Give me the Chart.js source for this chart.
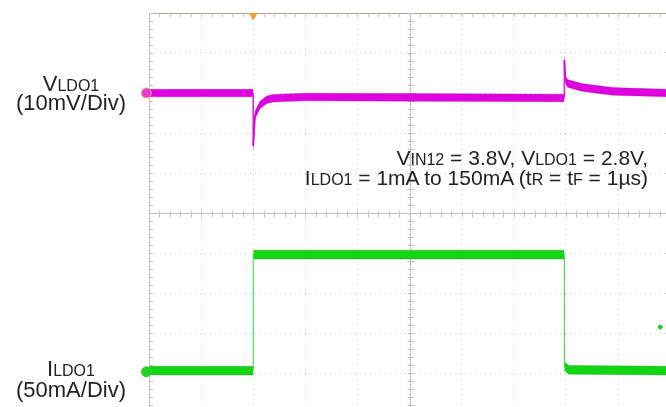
<!DOCTYPE html>
<html lang="en">
<head>
<meta charset="UTF-8">
<title>VLDO1 load transient</title>
<script src="https://cdn.jsdelivr.net/npm/chart.js"></script>
<style>
  html, body { margin: 0; padding: 0; background: #fff; overflow: hidden; }
  #wrap { position: relative; width: 666px; height: 407px; }
  #scope { position: absolute; left: 0; top: 0; }
  .lbl { position: absolute; font-family: "Liberation Sans", Arial, sans-serif; color: #222; white-space: nowrap; line-height: 20px; }
  .lbl small { font-size: 16px; }
  .side { left: 0; width: 142px; text-align: center; font-size: 22px; }
  .note { right: 18px; text-align: right; font-size: 21px; }
</style>
</head>
<body>
<div id="wrap">
  <canvas id="scope" width="666" height="407"></canvas>
  <div class="lbl side" style="top:74px">V<small>LDO1</small></div>
  <div class="lbl side" style="top:93px">(10mV/Div)</div>
  <div class="lbl side" style="top:359px">I<small>LDO1</small></div>
  <div class="lbl side" style="top:380px">(50mA/Div)</div>
  <div class="lbl note" style="top:148px">V<small>IN12</small> = 3.8V, V<small>LDO1</small> = 2.8V,</div>
  <div class="lbl note" style="top:168px">I<small>LDO1</small> = 1mA to 150mA (t<small>R</small> = t<small>F</small> = 1&micro;s)</div>
</div>

<script>
    // everything is in scope divisions (x: 10 div across, y: +-5 div about centre)
    // CH1, output voltage trace
    const vTime = [0, 2.0, 2.0, 2.035, 2.07, 2.13, 2.26, 2.38, 3.0, 5.0, 7.97, 7.97, 7.99, 8.03, 8.3, 8.9, 9.92];
    const vLdo1 = [3.0, 3.0, 1.68, 2.45, 2.55, 2.7, 2.83, 2.87, 2.9, 2.89, 2.875, 3.82, 3.35, 3.24, 3.14, 3.04, 3.0];

    // CH2, load current trace
    const iTime = [0, 2.0, 2.0, 7.97, 7.97, 8.05, 9.92];
    const iLdo1 = [-3.94, -3.94, -1.04, -1.04, -3.82, -3.92, -3.94];

    // channel ground markers (left edge), trigger position, stray sample
    const groundLevels = [3.0, -3.97];
    const triggerTime = [2.0];
    const strayDot = [[9.81, -2.85]];

    const xMax = 9.92, yMin = -4.85, yMax = 5;

    // noise band drawn as a filled envelope around each trace
    function band(xs, ys, half) {
        return xs.map((x, i) => ({ x: x, y: ys[i] + half }));
    }
    function pts(xs, ys) {
        return xs.map((x, i) => ({ x: x, y: ys[i] }));
    }
    const isJump = ctx => ctx.p0.parsed.x === ctx.p1.parsed.x;
    // band edges vanish on vertical jumps, centre line is lighter there
    const edgeColor = c => ({ borderColor: ctx => isJump(ctx) ? 'rgba(0,0,0,0)' : c });
    const centreColor = (flat, jump) => ({ borderColor: ctx => isJump(ctx) ? jump : flat });

    function keepWholeDivs(scale) {
        scale.ticks = scale.ticks.filter(t => Math.abs(t.value - Math.round(t.value)) < 1e-6);
    }

    // centre crosshair and the small sub-division ticks of the scope graticule
    const graticule = {
        id: 'graticule',
        beforeDatasetsDraw(chart) {
            const { ctx, chartArea: a, scales: { x, y } } = chart;
            const x0 = Math.round(x.getPixelForValue(5)) + 0.5;
            const y0 = Math.round(y.getPixelForValue(0)) + 0.5;
            ctx.save();
            ctx.strokeStyle = '#c0c0c0';
            ctx.lineWidth = 1;
            ctx.beginPath();
            ctx.moveTo(a.left, y0); ctx.lineTo(a.right, y0);
            ctx.moveTo(x0, a.top); ctx.lineTo(x0, a.bottom);
            for (let i = 0; i <= 50; i++) {
                const px = Math.round(x.getPixelForValue(i / 5)) + 0.5;
                if (px > a.right) break;
                ctx.moveTo(px, a.top); ctx.lineTo(px, a.top + 4);
                ctx.moveTo(px, y0 - 3); ctx.lineTo(px, y0 + 4);
            }
            for (let i = -25; i <= 25; i++) {
                const py = Math.round(y.getPixelForValue(i / 5)) + 0.5;
                if (py > a.bottom) continue;
                ctx.moveTo(a.left, py); ctx.lineTo(a.left + 4, py);
                ctx.moveTo(x0 - 3, py); ctx.lineTo(x0 + 4, py);
            }
            ctx.stroke();
            ctx.restore();
        }
    };

    const ctx = document.getElementById('scope').getContext('2d');
    new Chart(ctx, {
        type: 'line',
        data: {
            datasets: [
                {   // CH1 band top
                    data: band(vTime, vLdo1, 0.095),
                    borderWidth: 1, segment: edgeColor('rgba(160,0,160,0.3)'),
                    fill: false, pointRadius: 0, order: 2
                },
                {   // CH1 band bottom, filled up to the top edge
                    data: band(vTime, vLdo1, -0.095),
                    borderWidth: 1, segment: edgeColor('rgba(160,0,160,0.3)'),
                    fill: '-1', backgroundColor: '#de00de', pointRadius: 0, order: 2
                },
                {   // CH1 centre line (shows the thin edges)
                    data: pts(vTime, vLdo1),
                    borderWidth: 1.6, segment: centreColor('#de00de', '#d828d8'),
                    fill: false, pointRadius: 0, order: 1
                },
                {   // CH2 band top
                    data: band(iTime, iLdo1, 0.11),
                    borderWidth: 1, segment: edgeColor('rgba(0,120,0,0.25)'),
                    fill: false, pointRadius: 0, order: 2
                },
                {   // CH2 band bottom
                    data: band(iTime, iLdo1, -0.11),
                    borderWidth: 1, segment: edgeColor('rgba(0,120,0,0.25)'),
                    fill: '-1', backgroundColor: '#12d612', pointRadius: 0, order: 2
                },
                {   // CH2 centre line
                    data: pts(iTime, iLdo1),
                    borderWidth: 1.2, segment: centreColor('#12d612', '#58d858'),
                    fill: false, pointRadius: 0, order: 1
                },
                {   // ground markers
                    data: [{ x: -0.05, y: groundLevels[0] }, { x: -0.05, y: groundLevels[1] }],
                    showLine: false, clip: false, order: 0,
                    pointRadius: 5,
                    pointBackgroundColor: ['#e23ad6', '#22d022'],
                    pointBorderColor: ['#f2a060', '#44cc44'],
                    pointBorderWidth: 1
                },
                {   // trigger marker
                    data: triggerTime.map(t => ({ x: t, y: 4.93 })),
                    showLine: false, clip: false, order: 0,
                    pointStyle: 'triangle', rotation: 180, pointRadius: 4,
                    pointBackgroundColor: '#f0a030', pointBorderColor: '#f0a030'
                },
                {
                    data: strayDot.map(p => ({ x: p[0], y: p[1] })),
                    showLine: false, order: 0,
                    pointRadius: 2, pointBackgroundColor: '#22d022', pointBorderColor: '#22d022'
                }
            ]
        },
        options: {
            responsive: false,
            animation: false,
            devicePixelRatio: 1,
            layout: { autoPadding: false, padding: { left: 149, top: 13, right: 0, bottom: 0 } },
            plugins: { legend: { display: false }, tooltip: { enabled: false } },
            elements: { line: { tension: 0 } },
            scales: {
                x: {
                    type: 'linear', position: 'top', min: 0, max: xMax,
                    ticks: { display: false, stepSize: 1 },
                    afterBuildTicks: keepWholeDivs,
                    grid: { color: '#cccccc', drawTicks: false },
                    border: { color: '#b0a898', dash: [1, 4] }
                },
                y: {
                    type: 'linear', position: 'left', min: yMin, max: yMax,
                    ticks: { display: false, stepSize: 1 },
                    afterBuildTicks: keepWholeDivs,
                    grid: { color: '#cccccc', drawTicks: false },
                    border: { color: '#c0c0c0', dash: [1, 4] }
                }
            }
        },
        plugins: [graticule]
    });
</script>
</body>
</html>
